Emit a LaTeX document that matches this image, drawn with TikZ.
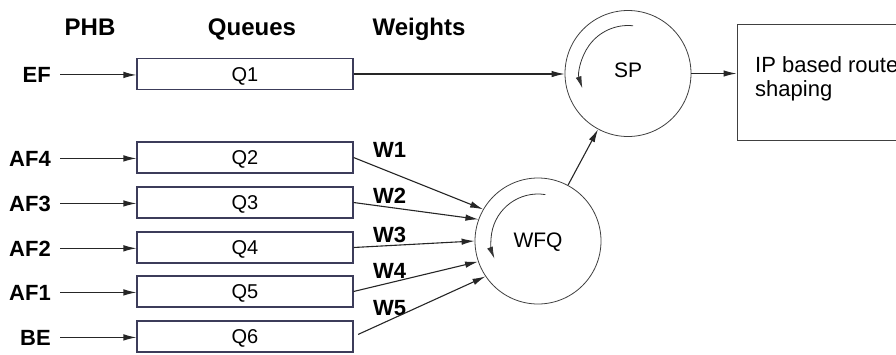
\documentclass[tikz,border=0pt]{standalone}
\usepackage{fontspec}
\setmainfont{Liberation Sans}
\usetikzlibrary{arrows.meta}
\begin{document}
\begin{tikzpicture}[x=1pt,y=-1pt,
  line/.style={draw=black!85, line width=1.1pt},
  flow/.style={line, -{Latex[length=13pt,width=6.5pt]}},
  turn/.style={draw=black!80, line width=0.8pt, -{Latex[length=12pt,width=6pt]}},
  queue/.style={draw={rgb,255:red,60;green,60;blue,90}, line width=1.1pt, fill=white,
    minimum width=216pt, minimum height=31pt, inner sep=0pt,
    text height=14.5pt, text depth=0pt,
    font=\fontsize{20}{24}\selectfont},
  sched/.style={circle, draw=black!75, line width=0.8pt, minimum size=126pt, inner sep=0pt},
  head/.style={font=\fontsize{24}{28}\selectfont\bfseries, anchor=base, inner sep=0pt},
  phb/.style={font=\fontsize{22}{26}\selectfont\bfseries, anchor=base east,
    inner xsep=9pt, inner ysep=0pt},
  plain/.style={font=\fontsize{21}{25}\selectfont, inner sep=0pt},
  wt/.style={font=\fontsize{22}{26}\selectfont\bfseries, anchor=base west, inner sep=0pt},
]
\useasboundingbox (0,0) rectangle (896,354);
\clip (0,0) rectangle (896,354);

% column headings
\node[head] (hphb) at (90,35) {PHB};
\node[head] (hq)   at (252,35) {Queues};
\node[head] (hw)   at (419,35) {Weights};

% queues with their PHB inputs
\foreach \q/\lab/\txt/\yc in {q1/EF/Q1/74, q2/AF4/Q2/157.5, q3/AF3/Q3/202.5,
                              q4/AF2/Q4/247.5, q5/AF1/Q5/291.5, q6/BE/Q6/336.5}{
  \node[queue] (\q) at (245,\yc) {\txt};
  \node[phb] (\q in) at (60,\yc+8.5) {\lab};
  \draw[flow] (\q in.east) -- (\q in.east -| \q.west);
}

% schedulers
\node[sched] (sp)  at (628,73.5) {};
\node[plain, anchor=base] (splab) at (628,77) {SP};
\node[sched] (wfq) at (538,241) {};
\node[plain, anchor=base] (wfqlab) at (538,247) {WFQ};
\draw[turn] ([shift={(84:48pt)}]sp.center) arc[start angle=84, end angle=198, radius=48pt];
\draw[turn] ([shift={(81:47pt)}]wfq.center) arc[start angle=81, end angle=202, radius=47pt];

% output stage
\node[draw=black!75, line width=0.9pt, minimum width=183pt, minimum height=116pt,
      inner sep=0pt] (ip) at (828.5,82) {};
\node[plain, anchor=north west, align=left, font=\fontsize{22}{24}\selectfont]
  (iptext) at (755,56) {IP based router\\shaping};

% weights
\node[wt] (w1) at (373,157) {W1};
\node[wt] (w2) at (373,203) {W2};
\node[wt] (w3) at (373,242) {W3};
\node[wt] (w4) at (373,278) {W4};
\node[wt] (w5) at (373,315) {W5};

% connections
\draw[flow] (q1.east) -- (q1.east -| sp.west);
\draw[flow] (q2.east) -- (wfq.150);
\draw[flow] (q3.east) -- (wfq.160);
\draw[flow] (q4.east) -- (wfq.180);
\draw[flow] (q5.east) -- (wfq.199);
\draw[flow, shorten <=5pt] (q6.east) -- (wfq.214);
\draw[flow] (wfq) -- (sp);
\draw[flow] (sp.east) -- (sp.east -| ip.west);
\end{tikzpicture}
\end{document}
